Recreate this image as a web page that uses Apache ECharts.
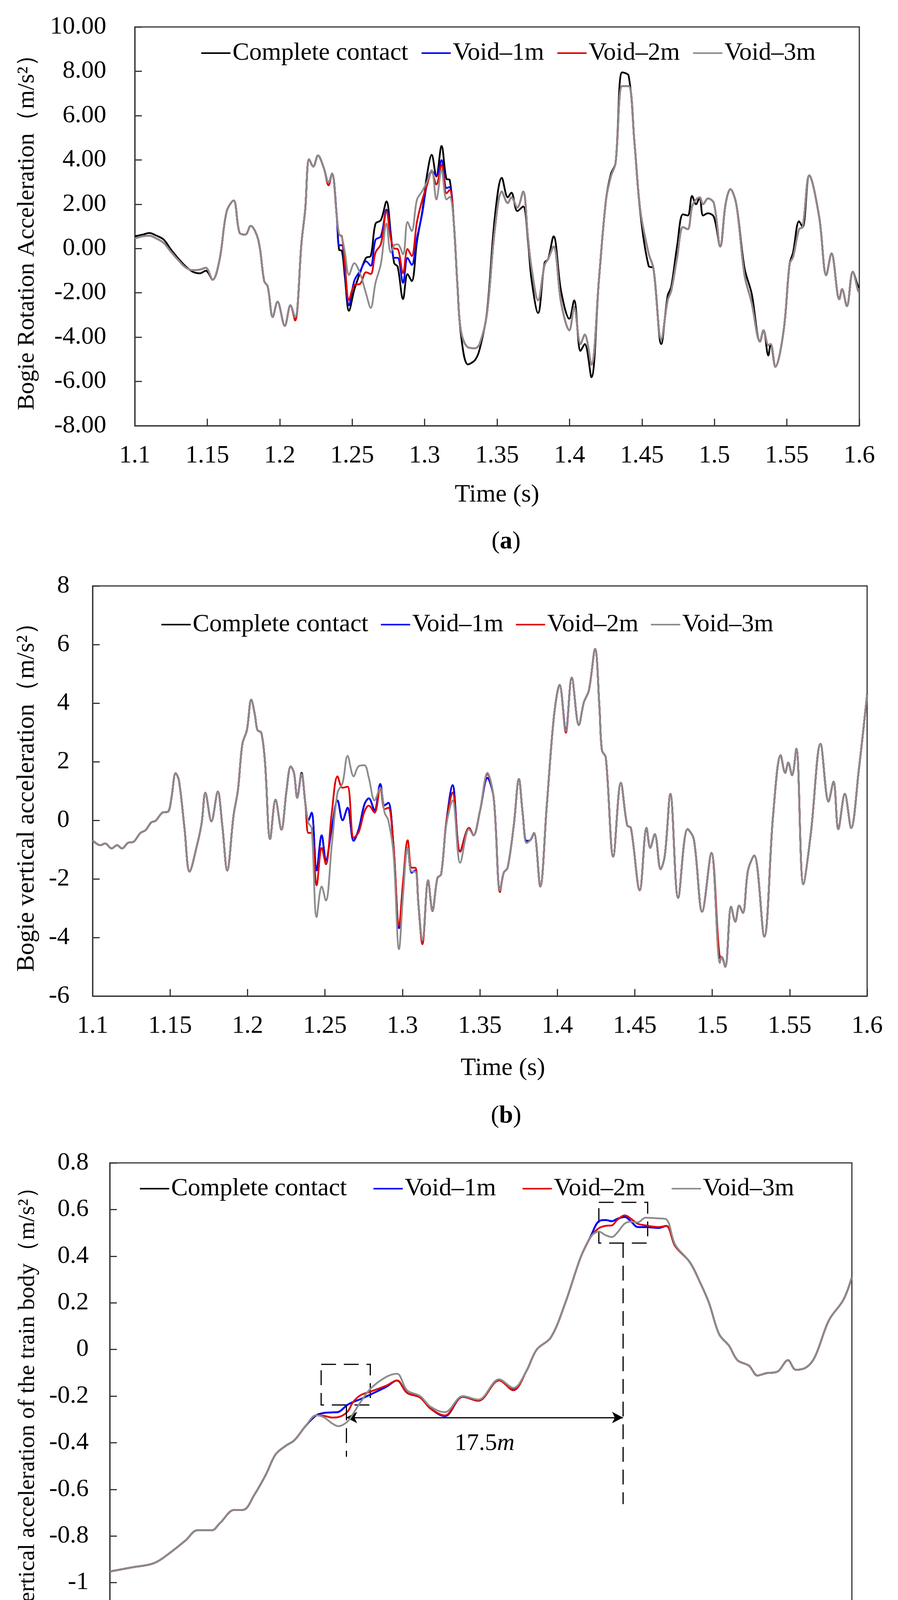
<!DOCTYPE html>
<html>
<head>
<meta charset="utf-8">
<script src="https://cdn.jsdelivr.net/npm/echarts@6/dist/echarts.min.js"></script>
<style>
html,body{margin:0;padding:0;background:#fff;}
#chart{width:2298px;height:4558px;}
</style>
</head>
<body>
<div id="chart"></div>
<script>
// ---------- chart (a): Bogie rotation acceleration ----------
const timeA = [
 1.1000,1.1050,1.1100,1.1150,1.1200,1.1250,1.1300,1.1350,1.1400,1.1450,
 1.1490,1.1537,1.1585,1.1634,1.1682,1.1723,1.1763,1.1799,1.1852,1.1893,
 1.1917,1.1952,1.1985,1.2035,1.2074,1.2106,1.2151,1.2176,1.2203,1.2232,
 1.2264,1.2305,1.2337,1.2361,1.2394,
 1.2410,1.2429,1.2450,1.2478,1.2515,1.2556,1.2596,1.2628,1.2661,1.2698,
 1.2737,1.2766,1.2790,1.2814,1.2851,1.2882,1.2911,1.2947,1.2984,1.3016,
 1.3049,1.3081,1.3117,1.3151,1.3173,1.3202,
 1.3227,1.3251,1.3299,1.3348,1.3380,1.3429,1.3485,1.3533,1.3574,1.3599,
 1.3640,1.3680,1.3713,1.3738,1.3783,1.3828,1.3852,1.3890,1.3942,1.3999,
 1.4032,1.4076,1.4105,1.4151,1.4203,1.4252,1.4285,1.4318,1.4363,1.4408,
 1.4448,1.4489,1.4546,1.4579,1.4633,1.4677,1.4702,1.4743,1.4783,1.4816,
 1.4846,1.4873,1.4898,1.4922,1.4955,1.4996,1.5040,1.5077,1.5110,1.5151,
 1.5208,1.5257,1.5315,1.5339,1.5372,1.5388,1.5421,1.5478,1.5519,1.5543,
 1.5584,1.5609,1.5655,1.5723,1.5772,1.5808,1.5862,1.5881,1.5914,1.5955,
 1.5993,1.6000
];
const blackA = [
 0.55,0.62,0.70,0.58,0.40,-0.05,-0.45,-0.80,-1.05,-1.12,
 -1.00,-1.41,-0.50,1.68,2.17,0.71,0.63,1.02,0.39,-1.47,
 -1.71,-3.09,-2.40,-3.49,-2.56,-3.15,0.31,1.76,4.03,3.70,
 4.20,3.62,2.97,3.38,1.44,
 -0.06,-0.10,-1.31,-2.81,-1.85,-1.07,-0.42,-0.34,1.12,1.28,
 2.13,0.71,-0.66,-0.82,-2.28,-1.15,-1.47,0.31,1.68,3.30,
 4.23,3.25,4.63,3.14,3.10,1.12,
 -1.71,-3.90,-5.23,-5.03,-4.54,-2.93,1.44,3.19,2.31,2.52,
 1.69,1.90,0.35,-1.41,-2.91,-0.64,-0.48,0.55,-1.93,-3.17,
 -2.34,-4.62,-4.31,-5.81,-1.41,2.21,3.35,3.87,7.95,7.80,
 4.80,1.59,-0.79,-0.89,-4.31,-2.14,-1.72,0.14,1.54,1.49,
 2.37,2.00,2.31,1.49,1.59,1.43,0.09,2.00,2.68,2.00,
 -0.89,-2.03,-4.20,-3.69,-4.83,-4.31,-5.34,-3.69,-0.69,-0.17,
 1.23,0.97,3.30,1.43,-1.20,-0.22,-2.29,-1.83,-2.60,-1.05,
 -1.72,-1.75
];
const blueA = [
 0.45,0.55,0.58,0.45,0.25,-0.15,-0.52,-0.85,-0.98,-0.95,
 -0.87,-1.41,-0.50,1.68,2.17,0.71,0.63,1.02,0.39,-1.47,
 -1.71,-3.09,-2.40,-3.49,-2.56,-3.15,0.31,1.76,4.03,3.70,
 4.20,3.62,2.97,3.38,1.44,
 0.15,0.15,-1.07,-2.56,-1.45,-1.00,-0.58,-0.78,0.39,0.55,
 1.76,0.63,-0.42,-0.42,-1.55,-0.42,-0.74,0.47,1.60,2.90,
 3.50,3.30,3.99,2.73,2.77,1.12,
 -1.71,-3.73,-4.46,-4.50,-4.30,-3.00,0.90,2.57,2.05,2.31,
 1.85,2.57,0.50,-0.89,-2.34,-0.74,-0.48,0.09,-2.44,-3.69,
 -2.65,-4.31,-3.89,-5.24,-1.41,2.21,3.25,3.87,7.33,7.33,
 4.80,1.70,-0.22,-0.89,-4.10,-2.34,-1.90,-0.38,0.97,0.87,
 1.90,2.21,2.31,2.00,2.26,2.05,0.09,2.00,2.68,2.00,
 -1.20,-2.44,-4.20,-3.69,-4.36,-4.31,-5.34,-3.69,-0.69,-0.38,
 0.87,0.97,3.30,1.43,-1.20,-0.22,-2.29,-1.83,-2.60,-1.05,
 -1.93,-1.95
];
const redA = [
 0.45,0.55,0.58,0.45,0.25,-0.15,-0.52,-0.85,-0.98,-0.95,
 -0.87,-1.41,-0.50,1.68,2.17,0.71,0.63,1.02,0.39,-1.47,
 -1.71,-3.09,-2.40,-3.49,-2.56,-3.25,0.31,1.76,4.03,3.70,
 4.20,3.62,2.85,3.38,1.44,
 0.63,0.55,-0.74,-2.32,-1.65,-1.59,-1.07,-1.15,-0.18,0.20,
 1.68,0.47,0.00,-0.02,-1.11,-0.02,-0.34,1.20,2.20,2.85,
 3.46,2.89,3.78,2.49,2.65,1.12,
 -1.71,-3.73,-4.46,-4.50,-4.30,-3.00,0.90,2.57,2.05,2.31,
 1.85,2.57,0.50,-0.89,-2.34,-0.74,-0.48,0.09,-2.44,-3.69,
 -2.65,-4.31,-3.89,-5.24,-1.41,2.21,3.25,3.87,7.33,7.33,
 4.80,1.70,-0.22,-0.89,-4.10,-2.34,-1.90,-0.38,0.97,0.87,
 1.90,2.21,2.31,2.00,2.26,2.05,0.09,2.00,2.68,2.00,
 -1.20,-2.44,-4.20,-3.69,-4.36,-4.31,-5.34,-3.69,-0.69,-0.38,
 0.87,0.97,3.30,1.43,-1.20,-0.22,-2.29,-1.83,-2.60,-1.05,
 -1.93,-1.95
];
const greyA = [
 0.45,0.55,0.58,0.45,0.25,-0.15,-0.52,-0.85,-0.98,-0.95,
 -0.87,-1.41,-0.50,1.68,2.17,0.71,0.63,1.02,0.39,-1.47,
 -1.71,-3.09,-2.40,-3.49,-2.56,-3.10,0.31,1.76,4.03,3.70,
 4.20,3.62,2.97,3.38,1.44,
 0.67,0.50,-0.18,-1.19,-0.66,-1.15,-2.04,-2.68,-1.55,-0.70,
 1.12,-0.18,0.15,0.19,-0.26,1.20,0.79,2.20,2.60,3.00,
 3.54,2.21,3.54,2.21,2.33,1.12,
 -1.71,-3.73,-4.46,-4.50,-4.30,-3.00,0.90,2.57,2.05,2.31,
 1.85,2.57,0.50,-0.89,-2.34,-0.74,-0.48,0.09,-2.44,-3.69,
 -2.65,-4.31,-3.89,-5.24,-1.41,2.21,3.25,3.87,7.33,7.33,
 4.80,1.70,-0.22,-0.89,-4.10,-2.34,-1.90,-0.38,0.97,0.87,
 1.90,2.21,2.31,2.00,2.26,2.05,0.09,2.00,2.68,2.00,
 -1.20,-2.44,-4.20,-3.69,-4.36,-4.31,-5.34,-3.69,-0.69,-0.38,
 0.87,0.97,3.30,1.43,-1.20,-0.22,-2.29,-1.83,-2.60,-1.05,
 -1.93,-1.95
];

// ---------- chart (b): Bogie vertical acceleration ----------
const timeB = [
 1.1000,1.1049,1.1081,1.1122,1.1158,1.1190,1.1228,1.1265,1.1309,1.1341,
 1.1379,1.1406,1.1450,1.1488,1.1509,1.1536,1.1557,1.1593,1.1626,1.1674,
 1.1704,1.1728,1.1767,1.1808,1.1837,1.1869,1.1910,1.1938,1.1967,1.1996,
 1.2024,1.2048,1.2064,1.2089,1.2113,1.2146,1.2181,1.2219,1.2251,1.2279,
 1.2300,1.2321,1.2349,1.2373,
 1.2393,1.2414,1.2446,1.2479,1.2506,1.2544,1.2581,1.2614,1.2646,1.2685,
 1.2718,1.2755,1.2783,1.2820,1.2857,1.2885,1.2909,1.2942,1.2978,1.3004,
 1.3034,1.3060,1.3083,1.3104,1.3129,1.3166,1.3194,1.3226,1.3250,1.3283,
 1.3324,1.3373,1.3430,1.3459,
 1.3500,1.3549,1.3589,1.3630,1.3654,1.3679,1.3719,1.3752,1.3776,1.3801,
 1.3825,1.3849,1.3890,1.3931,1.3979,1.4015,1.4055,1.4093,1.4139,1.4171,
 1.4204,1.4244,1.4272,1.4288,1.4313,1.4361,1.4410,1.4451,1.4475,1.4532,
 1.4576,1.4600,1.4629,1.4667,1.4694,1.4730,1.4780,1.4841,1.4881,1.4935,
 1.4995,1.5049,1.5060,1.5084,1.5122,1.5149,1.5174,1.5198,1.5231,1.5271,
 1.5336,1.5393,1.5442,1.5471,1.5491,1.5515,1.5543,1.5588,1.5637,1.5699,
 1.5751,1.5783,1.5814,1.5856,1.5897,1.5946,1.6000
];
const blackB = [
 -0.68,-0.85,-0.79,-0.96,-0.85,-0.96,-0.77,-0.73,-0.43,-0.34,
 -0.07,-0.02,0.26,0.30,0.77,1.61,1.37,-0.26,-1.75,-0.85,
 -0.09,0.94,-0.04,0.98,-0.17,-1.71,0.17,1.03,2.61,3.08,
 4.12,3.59,3.08,2.99,1.97,-0.64,0.70,-0.32,0.98,1.84,
 1.62,0.77,1.62,0.60,
 0.00,0.26,-1.71,-0.51,-1.37,-0.26,0.68,0.00,0.43,-0.70,
 -0.30,0.55,0.75,0.34,1.24,0.51,0.60,-0.85,-3.68,-2.22,
 -0.94,-1.79,-1.71,-2.91,-4.19,-2.05,-3.08,-1.97,-1.84,-0.09,
 1.20,-1.07,-0.26,-0.51,
 0.30,1.45,0.77,-2.39,-1.79,-1.62,-0.17,1.41,0.26,-0.70,
 -0.68,-0.43,-2.26,0.43,3.59,4.62,3.10,4.87,3.25,4.02,
 4.44,5.85,3.85,2.39,2.14,-1.24,1.28,-0.17,-0.26,-2.39,
 -0.26,-0.94,-0.47,-1.67,-1.20,0.90,-2.65,-0.30,-0.64,-3.12,
 -1.11,-4.70,-4.66,-5.00,-2.95,-3.46,-2.91,-3.16,-1.71,-1.20,
 -3.97,0.17,2.22,1.62,1.97,1.54,2.44,-2.18,-0.43,2.61,
 0.64,1.32,-0.30,0.90,-0.26,1.71,4.30
];
const blueB = [
 -0.68,-0.85,-0.79,-0.96,-0.85,-0.96,-0.77,-0.73,-0.43,-0.34,
 -0.07,-0.02,0.26,0.30,0.77,1.61,1.37,-0.26,-1.75,-0.85,
 -0.09,0.94,-0.04,0.98,-0.17,-1.71,0.17,1.03,2.61,3.08,
 4.12,3.59,3.08,2.99,1.97,-0.64,0.70,-0.32,0.98,1.84,
 1.62,0.77,1.58,0.60,
 0.00,0.26,-1.71,-0.51,-1.37,-0.26,0.68,0.00,0.43,-0.70,
 -0.30,0.55,0.75,0.34,1.24,0.51,0.60,-0.85,-3.68,-2.22,
 -0.94,-1.79,-1.71,-2.91,-4.19,-2.05,-3.08,-1.97,-1.84,-0.09,
 1.20,-1.07,-0.26,-0.51,
 0.30,1.45,0.77,-2.39,-1.79,-1.62,-0.17,1.41,0.26,-0.70,
 -0.68,-0.43,-2.26,0.43,3.59,4.62,3.10,4.87,3.25,4.02,
 4.44,5.85,3.85,2.39,2.14,-1.24,1.28,-0.17,-0.26,-2.39,
 -0.26,-0.94,-0.47,-1.67,-1.20,0.90,-2.65,-0.30,-0.64,-3.12,
 -1.11,-4.70,-4.66,-5.00,-2.95,-3.46,-2.91,-3.16,-1.71,-1.20,
 -3.97,0.17,2.22,1.62,1.97,1.54,2.44,-2.18,-0.43,2.61,
 0.64,1.32,-0.30,0.90,-0.26,1.71,4.30
];
const redB = [
 -0.68,-0.85,-0.79,-0.96,-0.85,-0.96,-0.77,-0.73,-0.43,-0.34,
 -0.07,-0.02,0.26,0.30,0.77,1.61,1.37,-0.26,-1.75,-0.85,
 -0.09,0.94,-0.04,0.98,-0.17,-1.71,0.17,1.03,2.61,3.08,
 4.12,3.59,3.08,2.99,1.97,-0.64,0.70,-0.32,0.98,1.84,
 1.62,0.77,1.58,0.60,
 -0.43,-0.43,-2.22,-0.94,-1.50,0.26,1.50,1.11,1.15,-0.60,
 -0.40,0.30,0.50,0.26,1.11,0.38,0.43,-0.85,-3.59,-2.10,
 -0.68,-1.62,-1.62,-2.91,-4.23,-2.05,-3.10,-1.97,-1.84,-0.09,
 0.95,-1.07,-0.26,-0.51,
 0.30,1.58,0.77,-2.45,-1.79,-1.62,-0.17,1.41,0.26,-0.77,
 -0.68,-0.43,-2.26,0.43,3.59,4.62,2.99,4.87,3.25,4.02,
 4.44,5.85,3.85,2.39,2.14,-1.24,1.28,-0.17,-0.26,-2.39,
 -0.26,-0.94,-0.47,-1.67,-1.20,0.90,-2.65,-0.30,-0.64,-3.12,
 -1.11,-4.65,-4.66,-5.00,-2.95,-3.46,-2.91,-3.16,-1.71,-1.20,
 -3.97,0.17,2.22,1.62,1.97,1.54,2.44,-2.18,-0.43,2.61,
 0.64,1.32,-0.30,0.90,-0.26,1.71,4.30
];
const greyB = [
 -0.68,-0.85,-0.79,-0.96,-0.85,-0.96,-0.77,-0.73,-0.43,-0.34,
 -0.07,-0.02,0.26,0.30,0.77,1.61,1.37,-0.26,-1.75,-0.85,
 -0.09,0.94,-0.04,0.98,-0.17,-1.71,0.17,1.03,2.61,3.08,
 4.12,3.59,3.08,2.99,1.97,-0.64,0.70,-0.32,0.98,1.84,
 1.62,0.77,1.58,0.60,
 -0.09,-0.26,-3.30,-2.26,-2.74,-0.85,0.94,1.28,2.20,1.50,
 1.85,1.88,1.45,0.68,1.11,0.26,0.00,-1.11,-4.40,-2.56,
 -0.94,-1.75,-1.75,-2.91,-4.10,-2.05,-3.08,-1.97,-1.84,-0.17,
 0.68,-1.45,-0.30,-0.51,
 0.30,1.62,0.77,-2.39,-1.79,-1.62,-0.17,1.41,0.26,-0.77,
 -0.68,-0.43,-2.26,0.43,3.59,4.62,3.05,4.87,3.25,4.02,
 4.44,5.85,3.85,2.39,2.14,-1.24,1.28,-0.17,-0.26,-2.39,
 -0.26,-0.94,-0.47,-1.67,-1.20,0.90,-2.65,-0.30,-0.64,-3.12,
 -1.11,-4.87,-4.66,-5.00,-2.95,-3.46,-2.91,-3.16,-1.71,-1.20,
 -3.97,0.17,2.22,1.62,1.97,1.54,2.44,-2.18,-0.43,2.61,
 0.64,1.32,-0.30,0.90,-0.26,1.71,4.30
];

// ---------- chart (c): Vertical acceleration of the train body ----------
const timeC = [
 0.0000,0.0146,0.0300,0.0416,0.0512,0.0589,0.0686,0.0743,0.0840,0.0898,
 0.0975,0.1052,0.1117,0.1186,0.1244,0.1321,0.1392,
 0.1445,0.1500,0.1540,0.1600,0.1640,0.1690,0.1760,0.1864,0.1934,0.2003,
 0.2091,0.2160,0.2257,0.2379,0.2483,0.2623,0.2719,0.2806,0.2876,0.2972,
 0.3068,0.3173,0.3243,0.3295,0.3340,0.3383,0.3418,0.3470,0.3513,0.3557,
 0.3610,0.3697,0.3749,
 0.3810,0.3906,0.3979,0.4037,0.4106,0.4172,0.4229,0.4307,0.4364,0.4422,
 0.4499,0.4569,0.4622,0.4692,0.4750,0.4846,0.4942,0.5000
];
const blackC = [
 -0.952,-0.935,-0.916,-0.867,-0.818,-0.776,-0.776,-0.744,-0.688,-0.688,
 -0.622,-0.536,-0.450,-0.413,-0.389,-0.327,-0.282,
 -0.272,-0.270,-0.268,-0.238,-0.225,-0.213,-0.192,-0.160,-0.133,-0.186,
 -0.206,-0.253,-0.286,-0.203,-0.220,-0.130,-0.173,-0.094,-0.001,0.052,
 0.198,0.396,0.489,0.550,0.555,0.550,0.560,0.568,0.548,0.525,
 0.525,0.521,0.530,
 0.443,0.376,0.285,0.200,0.065,0.016,-0.046,-0.070,-0.112,-0.102,
 -0.095,-0.046,-0.087,-0.077,-0.033,0.126,0.212,0.310
];
const blueC = [
 -0.952,-0.935,-0.916,-0.867,-0.818,-0.776,-0.776,-0.744,-0.688,-0.688,
 -0.622,-0.536,-0.450,-0.413,-0.389,-0.327,-0.282,
 -0.272,-0.270,-0.268,-0.238,-0.225,-0.213,-0.192,-0.160,-0.133,-0.186,
 -0.206,-0.253,-0.286,-0.203,-0.220,-0.130,-0.173,-0.094,-0.001,0.052,
 0.198,0.396,0.489,0.550,0.555,0.550,0.560,0.568,0.548,0.525,
 0.525,0.521,0.530,
 0.443,0.376,0.285,0.200,0.065,0.016,-0.046,-0.070,-0.112,-0.102,
 -0.095,-0.046,-0.087,-0.077,-0.033,0.126,0.212,0.310
];
const redC = [
 -0.952,-0.935,-0.916,-0.867,-0.818,-0.776,-0.776,-0.744,-0.688,-0.688,
 -0.622,-0.536,-0.450,-0.413,-0.389,-0.327,-0.282,
 -0.285,-0.292,-0.290,-0.268,-0.225,-0.196,-0.180,-0.155,-0.133,-0.186,
 -0.206,-0.253,-0.283,-0.203,-0.220,-0.133,-0.175,-0.094,-0.001,0.052,
 0.198,0.396,0.485,0.520,0.530,0.532,0.555,0.575,0.560,0.539,
 0.532,0.525,0.530,
 0.443,0.376,0.285,0.200,0.065,0.016,-0.046,-0.070,-0.112,-0.102,
 -0.095,-0.046,-0.087,-0.077,-0.033,0.126,0.212,0.310
];
const greyC = [
 -0.952,-0.935,-0.916,-0.867,-0.818,-0.776,-0.776,-0.744,-0.688,-0.688,
 -0.622,-0.536,-0.450,-0.413,-0.389,-0.327,-0.282,
 -0.292,-0.318,-0.329,-0.310,-0.275,-0.225,-0.166,-0.117,-0.104,-0.175,
 -0.200,-0.245,-0.269,-0.200,-0.215,-0.128,-0.165,-0.094,-0.001,0.052,
 0.198,0.396,0.485,0.505,0.490,0.482,0.500,0.540,0.548,0.545,
 0.565,0.562,0.558,
 0.449,0.376,0.285,0.200,0.065,0.016,-0.046,-0.070,-0.112,-0.102,
 -0.095,-0.046,-0.087,-0.077,-0.033,0.126,0.212,0.310
];

// annotation values for (c) (data units)
const boxesC = [[0.1424, -0.064, 0.1755, -0.238], [0.3295, 0.631, 0.3624, 0.456]];
const dropLinesC = [[0.1593, -0.24, -0.46], [0.3458, 0.456, -0.663]];
const spanC = [0.1593, 0.3458, -0.292];

const seriesNames = ['Complete contact', 'Void\u20131m', 'Void\u20132m', 'Void\u20133m'];
const colors = ['#000000', '#0000ff', '#e00000', '#8c8c8c'];

const FONT = '"Liberation Serif", "Times New Roman", serif';
const chart = echarts.init(document.getElementById('chart'), null, {width: 2298, height: 4558});

function pairs(t, v) { return t.map((x, i) => [x, v[i]]); }
function mk(idx, xi, t, v, extra) {
  return Object.assign({
    type: 'line', name: seriesNames[idx], xAxisIndex: xi, yAxisIndex: xi,
    data: pairs(t, v), symbol: 'none', showSymbol: false, smooth: 0.35,
    lineStyle: {color: colors[idx], width: 4.5}, itemStyle: {color: colors[idx]},
    animation: false, silent: true, z: 2 + idx
  }, extra || {});
}

const axisLineStyle = {color: '#333', width: 3};
function xAxis(gi, min, max, gap, pad) {
  return {
    type: 'value', gridIndex: gi, min: min, max: max, interval: 0.05,
    axisLine: {show: true, onZero: false, lineStyle: axisLineStyle},
    axisTick: {show: true, inside: true, length: 18, lineStyle: axisLineStyle},
    splitLine: {show: false},
    axisLabel: {color: '#000', fontFamily: FONT, fontSize: 64, margin: 45,
      showMinLabel: true, showMaxLabel: true,
      formatter: v => String(parseFloat(v.toFixed(2)))},
    name: 'Time (s)', nameLocation: 'middle', nameGap: gap,
    nameTextStyle: {color: '#000', fontFamily: FONT, fontSize: 64, padding: pad}
  };
}
function yAxis(gi, min, max, interval, margin, name, nameGap, nameSize, fmt) {
  return {
    type: 'value', gridIndex: gi, min: min, max: max, interval: interval,
    axisLine: {show: true, onZero: false, lineStyle: axisLineStyle},
    axisTick: {show: true, inside: true, length: 18, lineStyle: axisLineStyle},
    splitLine: {show: false},
    axisLabel: {color: '#000', fontFamily: FONT, fontSize: 64, margin: margin, formatter: fmt},
    name: name, nameLocation: 'middle', nameGap: nameGap, nameRotate: 90,
    nameTextStyle: {color: '#000', fontFamily: FONT, fontSize: nameSize}
  };
}
function legend(left, top, gap) {
  return {
    left: left, top: top, padding: 0, itemGap: gap, itemWidth: 75, itemHeight: 4,
    icon: 'rect', selectedMode: false, data: seriesNames,
    textStyle: {color: '#000', fontFamily: FONT, fontSize: 64}
  };
}
const dash = [38, 20];

const option = {
  backgroundColor: '#fff',
  animation: false,
  grid: [
    {left: 345, top: 69, width: 1854, height: 1021, show: true, borderColor: '#333', borderWidth: 3},
    {left: 237, top: 1500, width: 1982, height: 1050, show: true, borderColor: '#333', borderWidth: 3},
    {left: 281, top: 2977, width: 1899, height: 1194, show: true, borderColor: '#333', borderWidth: 3}
  ],
  xAxis: [
    xAxis(0, 1.1, 1.6, 145, [0, 0, 0, 0]),
    xAxis(1, 1.1, 1.6, 153, [0, 0, 0, 118]),
    xAxis(2, 0, 0.5, 139, [0, 148, 0, 0])
  ],
  yAxis: [
    yAxis(0, -8, 10, 2, 73, 'Bogie Rotation Acceleration\uFF08m/s\u00B2\uFF09', 244, 62, v => v.toFixed(2)),
    yAxis(1, -6, 8, 2, 59, 'Bogie vertical acceleration\uFF08m/s\u00B2\uFF09', 136, 64, v => String(v)),
    yAxis(2, -1.2, 0.8, 0.2, 54, 'Vertical acceleration of the train body\uFF08m/s\u00B2\uFF09', 180, 60,
      v => String(parseFloat(v.toFixed(2))))
  ],
  legend: [legend(515, 104, 34), legend(413, 1567, 32), legend(358, 3011, 68)],
  series: [
    mk(0, 0, timeA, blackA), mk(1, 0, timeA, blueA), mk(2, 0, timeA, redA), mk(3, 0, timeA, greyA),
    mk(0, 1, timeB, blackB), mk(1, 1, timeB, blueB), mk(2, 1, timeB, redB), mk(3, 1, timeB, greyB),
    mk(0, 2, timeC, blackC), mk(1, 2, timeC, blueC), mk(2, 2, timeC, redC),
    mk(3, 2, timeC, greyC, {
      markArea: {
        silent: true,
        itemStyle: {color: 'rgba(0,0,0,0)', borderColor: '#000', borderWidth: 3, borderType: dash},
        label: {show: false},
        data: boxesC.map(b => [{coord: [b[0], b[1]]}, {coord: [b[2], b[3]]}])
      },
      markLine: {
        silent: true, symbol: 'none', animation: false,
        label: {show: false},
        lineStyle: {color: '#000', width: 3, type: dash},
        data: dropLinesC.map(d => [{coord: [d[0], d[1]]}, {coord: [d[0], d[2]]}]).concat([[
          {coord: [spanC[0], spanC[2]], symbol: 'arrow', symbolSize: [22, 28],
           lineStyle: {type: 'solid', width: 3, color: '#000'},
           label: {show: true, position: 'insideMiddleBottom', distance: 36,
             formatter: '{n|17.5}{m|m}',
             rich: {n: {fontFamily: FONT, fontSize: 62, color: '#000'},
                    m: {fontFamily: FONT, fontSize: 62, fontStyle: 'italic', color: '#000'}}}},
          {coord: [spanC[1], spanC[2]], symbol: 'arrow', symbolSize: [22, 28]}
        ]])
      }
    })
  ],
  graphic: [
    ['a', 1387], ['b', 2857], ['c', 4477]
  ].map(p => ({
    type: 'text', x: 1295, y: p[1], silent: true,
    style: {
      text: '{p|(}{b|' + p[0] + '}{p|)}', align: 'center', verticalAlign: 'middle',
      rich: {p: {fontFamily: FONT, fontSize: 64, fill: '#000'},
             b: {fontFamily: FONT, fontSize: 64, fontWeight: 'bold', fill: '#000'}}
    }
  }))
};
chart.setOption(option);
</script>
</body>
</html>
